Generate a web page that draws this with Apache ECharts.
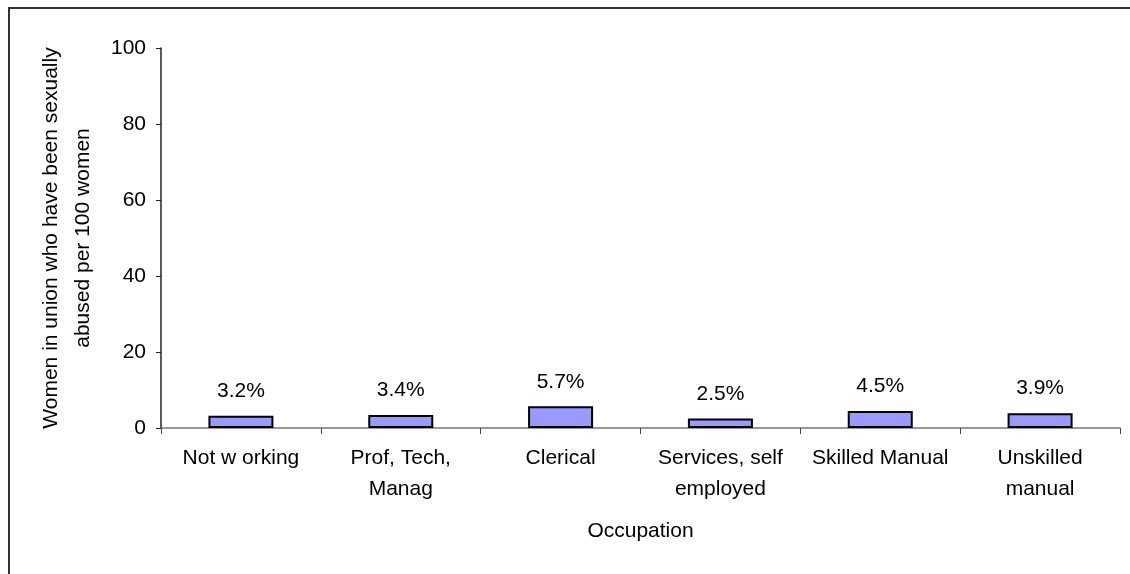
<!DOCTYPE html>
<html>
<head>
<meta charset="utf-8">
<title>Sexual abuse by occupation</title>
<script src="https://cdn.jsdelivr.net/npm/echarts@6/dist/echarts.min.js"></script>
<style>
  html, body { margin: 0; padding: 0; background: #fff; }
  #chart { width: 1130px; height: 574px; }
</style>
</head>
<body>
<div id="chart"></div>
<script>
// Occupation categories (line breaks as shown under the axis)
const categories = [
  'Not w orking',
  'Prof, Tech,\nManag',
  'Clerical',
  'Services, self\nemployed',
  'Skilled Manual',
  'Unskilled\nmanual'
];
// Women in union who have been sexually abused, per 100 women
const values = [3.2, 3.4, 5.7, 2.5, 4.5, 3.9];
// Y axis scale
const yMin = 0;
const yMax = 100;
const yStep = 20;

const FONT = '"Liberation Sans", Arial, sans-serif';
const FS = 21;

const chart = echarts.init(document.getElementById('chart'), null, { renderer: 'canvas' });

chart.setOption({
  animation: false,
  backgroundColor: '#ffffff',
  textStyle: { fontFamily: FONT, color: '#000' },
  graphic: [{
    type: 'rect',
    shape: { x: 9, y: 8, width: 1300, height: 800 },
    style: { fill: 'none', stroke: '#333', lineWidth: 2 },
    silent: true
  }],
  grid: { left: 161, right: 10, top: 48, bottom: 146, containLabel: false },
  xAxis: {
    type: 'category',
    data: categories,
    name: 'Occupation',
    nameLocation: 'middle',
    nameGap: 88,
    nameTextStyle: { fontSize: FS, fontFamily: FONT, color: '#000', lineHeight: 30 },
    axisLine: { show: true, lineStyle: { color: '#777', width: 1.5 } },
    axisTick: { show: true, length: 6, alignWithLabel: false, lineStyle: { color: '#444' } },
    axisLabel: {
      interval: 0,
      margin: 15,
      fontSize: FS,
      lineHeight: 31,
      fontFamily: FONT,
      color: '#000'
    },
    splitLine: { show: false }
  },
  yAxis: {
    type: 'value',
    min: yMin,
    max: yMax,
    interval: yStep,
    name: 'Women in union who have been sexually\nabused per 100 women',
    nameLocation: 'middle',
    nameRotate: 90,
    nameGap: 62,
    nameTextStyle: { fontSize: FS, fontFamily: FONT, color: '#000', lineHeight: 32 },
    axisLine: { show: true, lineStyle: { color: '#222', width: 1.5 } },
    axisTick: { show: true, length: 5, lineStyle: { color: '#222' } },
    axisLabel: { margin: 15, fontSize: FS, fontFamily: FONT, color: '#000' },
    splitLine: { show: false }
  },
  series: [{
    type: 'bar',
    data: values,
    barWidth: 65,
    itemStyle: { color: '#9999ff', borderColor: '#000', borderWidth: 2 },
    label: {
      show: true,
      position: 'top',
      distance: 14,
      fontSize: FS,
      fontFamily: FONT,
      color: '#000',
      formatter: p => p.value.toFixed(1) + '%'
    }
  }]
});
</script>
</body>
</html>
